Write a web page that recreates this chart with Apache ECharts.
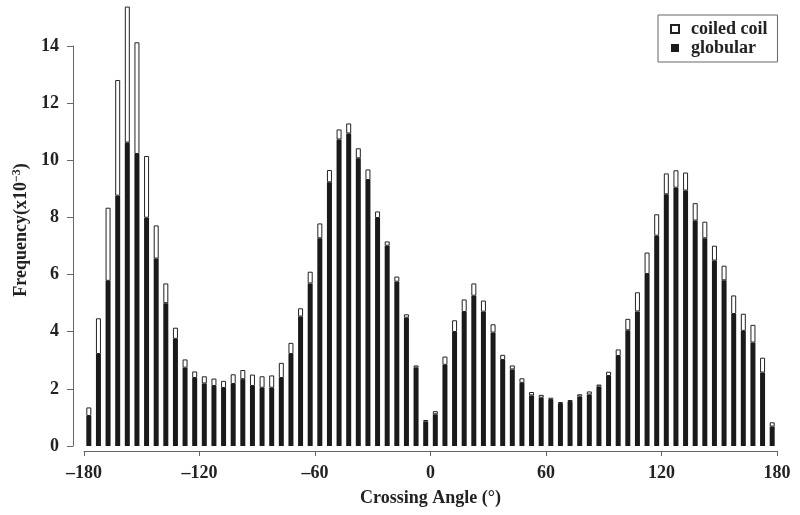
<!DOCTYPE html>
<html>
<head>
<meta charset="utf-8">
<script src="https://cdn.jsdelivr.net/npm/echarts@6/dist/echarts.min.js"></script>
<style>
  html, body { margin: 0; padding: 0; background: #fff; }
  #chart { width: 800px; height: 515px; }
</style>
</head>
<body>
<div id="chart"></div>
<script>
// bin centres (degrees), 5 degree bins
const angles = [
  -177.5, -172.5, -167.5, -162.5, -157.5, -152.5, -147.5, -142.5, -137.5, -132.5, -127.5, -122.5,
  -117.5, -112.5, -107.5, -102.5, -97.5, -92.5, -87.5, -82.5, -77.5, -72.5, -67.5, -62.5,
  -57.5, -52.5, -47.5, -42.5, -37.5, -32.5, -27.5, -22.5, -17.5, -12.5, -7.5, -2.5,
  2.5, 7.5, 12.5, 17.5, 22.5, 27.5, 32.5, 37.5, 42.5, 47.5, 52.5, 57.5,
  62.5, 67.5, 72.5, 77.5, 82.5, 87.5, 92.5, 97.5, 102.5, 107.5, 112.5, 117.5,
  122.5, 127.5, 132.5, 137.5, 142.5, 147.5, 152.5, 157.5, 162.5, 167.5, 172.5, 177.5
];

// frequency (x10^-3), globular part (black)
const globular = [
  1.05, 3.22, 5.78, 8.76, 10.62, 10.22, 7.99, 6.56, 5.00, 3.75, 2.74, 2.38,
  2.19, 2.10, 2.03, 2.17, 2.34, 2.10, 2.04, 2.04, 2.38, 3.22, 4.53, 5.69,
  7.27, 9.23, 10.73, 10.94, 10.07, 9.31, 7.98, 7.01, 5.75, 4.49, 2.74, 0.85,
  1.11, 2.84, 3.99, 4.69, 5.26, 4.70, 3.97, 3.01, 2.68, 2.21, 1.77, 1.69,
  1.61, 1.47, 1.54, 1.73, 1.80, 2.08, 2.45, 3.15, 4.05, 4.71, 6.02, 7.36,
  8.81, 9.04, 8.94, 7.89, 7.27, 6.49, 5.80, 4.62, 4.03, 3.62, 2.57, 0.68
];

// coiled coil part stacked on top (white)
const coiledCoil = [
  0.30, 1.25, 2.56, 4.05, 4.76, 3.91, 2.16, 1.16, 0.69, 0.39, 0.29, 0.23,
  0.25, 0.26, 0.25, 0.34, 0.32, 0.40, 0.40, 0.43, 0.53, 0.39, 0.29, 0.41,
  0.52, 0.43, 0.35, 0.35, 0.35, 0.37, 0.23, 0.15, 0.18, 0.12, 0.08, 0.06,
  0.11, 0.29, 0.41, 0.44, 0.43, 0.39, 0.29, 0.18, 0.14, 0.16, 0.12, 0.10,
  0.08, 0.07, 0.07, 0.08, 0.11, 0.07, 0.15, 0.23, 0.40, 0.67, 0.75, 0.75,
  0.73, 0.61, 0.63, 0.61, 0.58, 0.52, 0.51, 0.65, 0.60, 0.62, 0.52, 0.15
];

const angleTicks = [-180, -120, -60, 0, 60, 120, 180];

const font = "'Liberation Serif', 'Times New Roman', serif";

const chart = echarts.init(document.getElementById("chart"));
chart.setOption({
  animation: false,
  backgroundColor: "#fff",
  grid: {
    left: 84,
    right: 23,
    top: 46,
    bottom: 69,
  },
  legend: {
    data: ["coiled coil", "globular"],
    orient: "vertical",
    left: 658,
    top: 15,
    padding: [5, 10, 5, 12],
    itemWidth: 8,
    itemHeight: 8,
    itemGap: 1,
    icon: "rect",
    borderColor: "#666",
    borderWidth: 1,
    textStyle: {
      fontFamily: font,
      fontWeight: "bold",
      fontSize: 18,
      color: "#222",
      padding: [0, 0, 0, 7],
    },
  },
  xAxis: [
    {
      // bins, one category per bar
      type: "category",
      data: angles,
      show: false,
    },
    {
      type: "value",
      min: angleTicks[0],
      max: angleTicks[angleTicks.length - 1],
      interval: 60,
      position: "bottom",
      offset: 5,
      name: "Crossing Angle (°)",
      nameLocation: "middle",
      nameGap: 38,
      nameTextStyle: {
        fontFamily: font,
        fontWeight: "bold",
        fontSize: 18,
        color: "#222",
      },
      axisLine: { onZero: false, lineStyle: { color: "#666", width: 1 } },
      axisTick: { length: 5, lineStyle: { color: "#666" } },
      axisLabel: {
        margin: 13,
        fontFamily: font,
        fontWeight: "bold",
        fontSize: 18,
        color: "#222",
        formatter: (v) => (v < 0 ? "\u2013" + Math.abs(v) : String(v)),
      },
      splitLine: { show: false },
    },
  ],
  yAxis: {
    type: "value",
    min: 0,
    max: 14,
    interval: 2,
    offset: 11,
    name: "Frequency(x10{sup|\u22123})",
    nameLocation: "middle",
    nameGap: 42,
    nameTextStyle: {
      fontFamily: font,
      fontWeight: "bold",
      fontSize: 18,
      color: "#222",
      padding: [0, 0, 0, 32],
      rich: {
        sup: {
          fontFamily: font,
          fontWeight: "bold",
          fontSize: 12,
          color: "#222",
          verticalAlign: "top",
          padding: [0, 0, 8, 0],
        },
      },
    },
    axisLine: { show: true, onZero: false, lineStyle: { color: "#666", width: 1 } },
    axisTick: { show: true, length: 6, lineStyle: { color: "#666" } },
    axisLabel: {
      margin: 14,
      fontFamily: font,
      fontWeight: "bold",
      fontSize: 18,
      color: "#222",
    },
    splitLine: { show: false },
  },
  series: [
    {
      name: "globular",
      type: "bar",
      xAxisIndex: 0,
      stack: "total",
      barWidth: 5,
      clip: false,
      itemStyle: { color: "#1a1a1a" },
      data: globular,
    },
    {
      name: "coiled coil",
      type: "bar",
      xAxisIndex: 0,
      stack: "total",
      barWidth: 5,
      clip: false,
      itemStyle: { color: "#fff", borderColor: "#222", borderWidth: 1 },
      data: coiledCoil,
    },
  ],
});
</script>
</body>
</html>
